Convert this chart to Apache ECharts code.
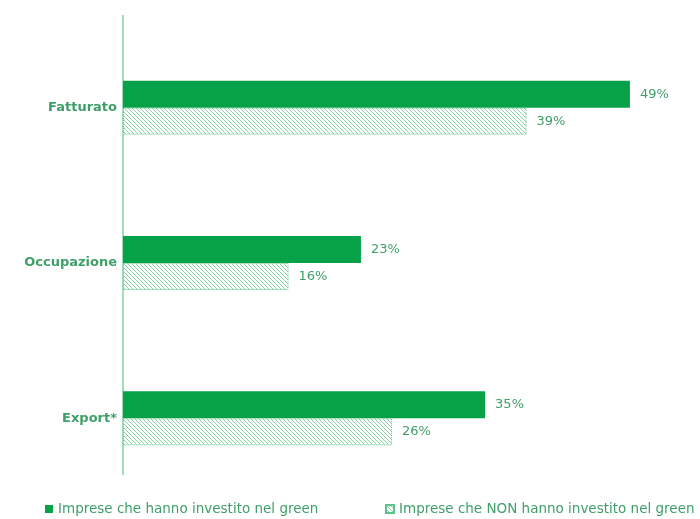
<!DOCTYPE html>
<html>
<head>
<meta charset="utf-8">
<script src="https://cdn.jsdelivr.net/npm/echarts@6/dist/echarts.min.js"></script>
<style>html,body{margin:0;padding:0;background:#fff}#main{width:700px;height:519px}</style>
</head>
<body>
<div id="main"></div>
<script>
var categories = ['Fatturato', 'Occupazione', 'Export*'];
var greenValues = [49, 23, 35];
var nonGreenValues = [39, 16, 26];
var seriesNames = ['Imprese che hanno investito nel green', 'Imprese che NON hanno investito nel green'];

// hatch pattern for the "NON" series
var pc = document.createElement('canvas');
pc.width = 4; pc.height = 4;
var ctx = pc.getContext('2d');
ctx.fillStyle = '#ffffff';
ctx.fillRect(0, 0, 4, 4);
ctx.strokeStyle = '#8ad6a8';
ctx.lineWidth = 1;
ctx.beginPath();
ctx.moveTo(-1, -1); ctx.lineTo(5, 5);
ctx.moveTo(-1, 3); ctx.lineTo(1, 5);
ctx.moveTo(3, -1); ctx.lineTo(5, 1);
ctx.stroke();

var txt = '#3f9f69';
var font = 'DejaVu Sans';
var myChart = echarts.init(document.getElementById('main'));
var option = {
    animation: false,
    grid: { left: 123, right: 8, top: 30, bottom: 23 },
    xAxis: { type: 'value', min: 0, max: 55, show: false },
    yAxis: {
        type: 'category', data: categories, inverse: true,
        axisLine: { show: false }, axisTick: { show: false },
        axisLabel: { color: txt, fontSize: 13, fontWeight: 'bold', fontFamily: font, margin: 6 }
    },
    graphic: [{ type: 'line', shape: { x1: 123, y1: 15, x2: 123, y2: 475 }, style: { stroke: '#3dbb77', lineWidth: 1 } }],
    legend: [
        { data: [seriesNames[0]], left: 40, top: 497, itemWidth: 8, itemHeight: 8, icon: 'rect',
          textStyle: { color: txt, fontSize: 13.5, fontFamily: font } },
        { data: [seriesNames[1]], left: 380, top: 497, itemWidth: 8, itemHeight: 8, icon: 'rect',
          textStyle: { color: txt, fontSize: 13.5, fontFamily: font } }
    ],
    series: [
        { name: seriesNames[0], type: 'bar', data: greenValues, barWidth: 27, barGap: '0%',
          itemStyle: { color: '#07a247' },
          label: { show: true, position: 'right', distance: 10, formatter: '{c}%', color: txt, fontSize: 13, fontFamily: font } },
        { name: seriesNames[1], type: 'bar', data: nonGreenValues, barWidth: 27,
          itemStyle: { color: { image: pc, repeat: 'repeat' }, borderColor: '#5cc48a', borderWidth: 1, borderType: 'dotted' },
          label: { show: true, position: 'right', distance: 10, formatter: '{c}%', color: txt, fontSize: 13, fontFamily: font } }
    ]
};
myChart.setOption(option, true);
</script>
</body>
</html>
